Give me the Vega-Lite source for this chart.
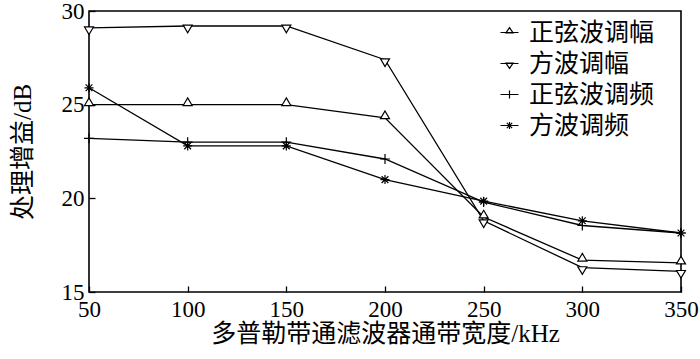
{
  "$schema": "https://vega.github.io/schema/vega-lite/v6.json",
  "width": 592,
  "height": 281,
  "autosize": {"type": "none"},
  "padding": {"left": 89, "top": 11, "right": 19, "bottom": 67},
  "background": "white",
  "config": {
    "font": "Liberation Serif, Noto Sans CJK SC",
    "view": {"stroke": "black", "strokeWidth": 1.6},
    "axis": {
      "domain": false,
      "grid": false,
      "tickColor": "black",
      "tickWidth": 1.3,
      "tickSize": -6,
      "labelColor": "black",
      "labelFont": "Liberation Serif",
      "labelFontSize": 23,
      "labelFlush": false,
      "labelOverlap": false,
      "titleColor": "black",
      "titleFont": "Liberation Serif, Noto Sans CJK SC",
      "titleFontSize": 25,
      "titleFontWeight": "normal"
    }
  },
  "data": {
    "values": [
      {"x": 50, "value": 25.0, "series": "正弦波调幅"},
      {"x": 100, "value": 25.0, "series": "正弦波调幅"},
      {"x": 150, "value": 25.0, "series": "正弦波调幅"},
      {"x": 200, "value": 24.3, "series": "正弦波调幅"},
      {"x": 250, "value": 19.0, "series": "正弦波调幅"},
      {"x": 300, "value": 16.7, "series": "正弦波调幅"},
      {"x": 350, "value": 16.55, "series": "正弦波调幅"},
      {"x": 50, "value": 29.1, "series": "方波调幅"},
      {"x": 100, "value": 29.2, "series": "方波调幅"},
      {"x": 150, "value": 29.2, "series": "方波调幅"},
      {"x": 200, "value": 27.4, "series": "方波调幅"},
      {"x": 250, "value": 18.8, "series": "方波调幅"},
      {"x": 300, "value": 16.3, "series": "方波调幅"},
      {"x": 350, "value": 16.1, "series": "方波调幅"},
      {"x": 50, "value": 23.2, "series": "正弦波调频"},
      {"x": 100, "value": 23.0, "series": "正弦波调频"},
      {"x": 150, "value": 23.0, "series": "正弦波调频"},
      {"x": 200, "value": 22.1, "series": "正弦波调频"},
      {"x": 250, "value": 19.8, "series": "正弦波调频"},
      {"x": 300, "value": 18.55, "series": "正弦波调频"},
      {"x": 350, "value": 18.15, "series": "正弦波调频"},
      {"x": 50, "value": 25.9, "series": "方波调频"},
      {"x": 100, "value": 22.8, "series": "方波调频"},
      {"x": 150, "value": 22.8, "series": "方波调频"},
      {"x": 200, "value": 21.0, "series": "方波调频"},
      {"x": 250, "value": 19.85, "series": "方波调频"},
      {"x": 300, "value": 18.8, "series": "方波调频"},
      {"x": 350, "value": 18.15, "series": "方波调频"}
    ]
  },
  "encoding": {
    "x": {
      "field": "x", "type": "quantitative",
      "scale": {"domain": [50, 350], "nice": false, "zero": false},
      "axis": {"values": [50, 100, 150, 200, 250, 300, 350], "title": "多普勒带通滤波器通带宽度/kHz", "labelPadding": 12, "titlePadding": 0}
    },
    "y": {
      "field": "value", "type": "quantitative",
      "scale": {"domain": [15, 30], "nice": false, "zero": false},
      "axis": {"values": [15, 20, 25, 30], "title": "处理增益/dB", "labelPadding": 11, "titlePadding": 26}
    }
  },
  "layer": [
    {
      "mark": {"type": "line", "color": "black", "strokeWidth": 1.3},
      "encoding": {"detail": {"field": "series"}}
    },
    {
      "mark": {"type": "point", "filled": true, "fill": "white", "stroke": "black", "strokeWidth": 1.2, "opacity": 1, "size": 81},
      "encoding": {
        "shape": {
          "field": "series", "type": "nominal",
          "scale": {
            "domain": ["正弦波调幅", "方波调幅", "正弦波调频", "方波调频"],
            "range": ["M0,-1.5L1,0.2H-1Z", "M-1,-0.2H1L0,1.5Z", "M-1.1,0H1.1M0,-1.1V1.1", "M-1,0H1M0,-1V1M-0.75,-0.75L0.75,0.75M-0.75,0.75L0.75,-0.75"]
          },
          "legend": null
        }
      }
    },
    {
      "transform": [{"filter": "datum.value > 1000"}],
      "mark": {"type": "point", "filled": false, "color": "black", "strokeWidth": 1.2, "opacity": 1},
      "encoding": {
        "shape": {
          "field": "series", "type": "nominal",
          "scale": {
            "domain": ["正弦波调幅", "方波调幅", "正弦波调频", "方波调频"],
            "range": ["M-1,0H1M0,-0.55L0.4,0.05H-0.4Z", "M-1,0H1M-0.4,-0.05H0.4L0,0.55Z", "M-1,0H1M0,-0.45V0.45", "M-1,0H1M0,-0.4V0.4M-0.3,-0.3L0.3,0.3M-0.3,0.3L0.3,-0.3"]
          },
          "legend": {
            "title": null,
            "orient": "none",
            "legendX": 408,
            "legendY": 9,
            "padding": 0,
            "symbolSize": 324,
            "symbolStrokeColor": "black",
            "symbolStrokeWidth": 1.2,
            "symbolOpacity": 1,
            "labelFont": "Liberation Serif, Noto Sans CJK SC",
            "labelFontSize": 25,
            "labelColor": "black",
            "labelOffset": 7,
            "rowPadding": 5,
            "labelLimit": 300
          }
        }
      }
    }
  ],
  "resolve": {"scale": {"shape": "independent"}, "legend": {"shape": "independent"}}
}
